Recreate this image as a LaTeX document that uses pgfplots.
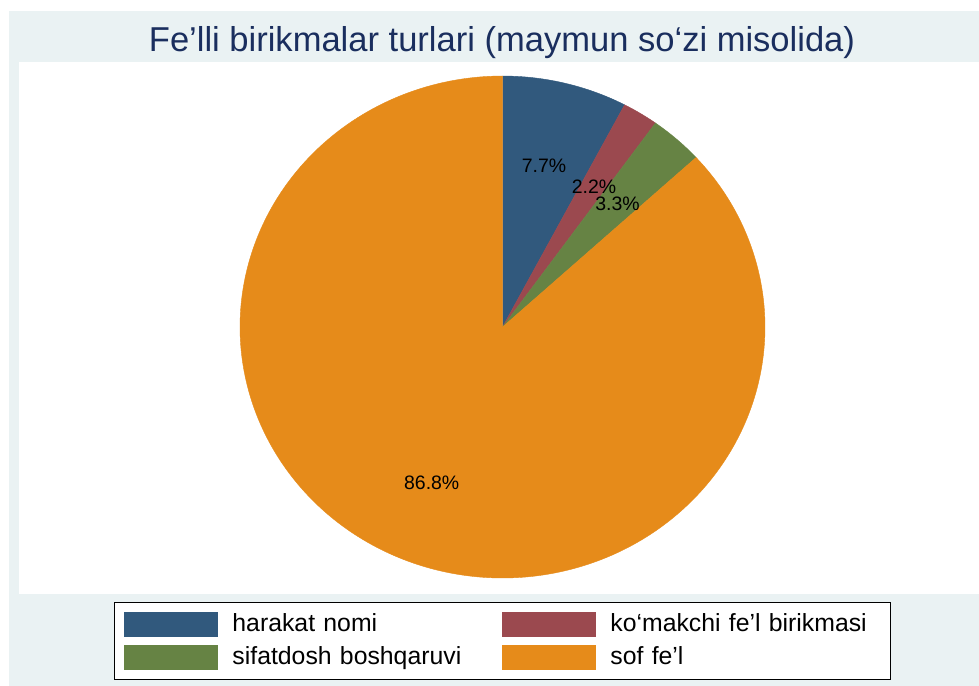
\documentclass[border=0pt]{standalone}
\usepackage{pgfplots}
\pgfplotsset{compat=1.18}
\usepackage{pgfplotstable}
\usepackage{fontspec}
\setmainfont{Liberation Sans}
\definecolor{cnavy}{RGB}{49,89,125}
\definecolor{cmaroon}{RGB}{155,73,79}
\definecolor{cgreen}{RGB}{102,131,68}
\definecolor{corange}{RGB}{230,139,26}
\definecolor{bgcol}{RGB}{234,242,243}
\definecolor{titlecol}{RGB}{26,46,94}

\pgfplotstableread{
share
7.7
2.2
3.3
86.8
}\piedata
\pgfplotstablegetelem{0}{share}\of\piedata \let\sA\pgfplotsretval
\pgfplotstablegetelem{1}{share}\of\piedata \let\sB\pgfplotsretval
\pgfplotstablegetelem{2}{share}\of\piedata \let\sC\pgfplotsretval
\pgfplotstablegetelem{3}{share}\of\piedata \let\sD\pgfplotsretval
\pgfmathsetmacro{\aA}{90}
\pgfmathsetmacro{\aB}{\aA-3.6*\sA}
\pgfmathsetmacro{\aC}{\aB-3.6*\sB}
\pgfmathsetmacro{\aD}{\aC-3.6*\sC}
\pgfmathsetmacro{\aE}{\aD-3.6*\sD}

\begin{document}
\begin{tikzpicture}
% canvas: 1px = 0.75pt, 979x686 px
\fill[white] (0,0) rectangle (734.25pt,514.5pt);
\fill[bgcol] (6.75pt,0) rectangle (734.25pt,506.25pt);
\fill[white] (14.25pt,69pt) rectangle (734.25pt,468pt);
\node[anchor=base, font=\fontsize{25.9pt}{30pt}\selectfont, text=titlecol, inner sep=0pt]
  at (376.5pt,475.5pt) {Fe’lli birikmalar turlari (maymun so‘zi misolida)};
\begin{axis}[
  at={(14.25pt,69pt)}, anchor=south west,
  scale only axis, width=720pt, height=399pt,
  xmin=-1.8419, xmax=1.8152, ymin=-1.0637, ymax=1.0558,
  hide axis, clip=false,
  legend columns=2,
  legend cell align=left,
  legend image code/.code={\fill[#1,draw=none] (0pt,-9.375pt) rectangle (70.5pt,9.375pt);},
  legend style={
    at={(0.5036,-0.01504)}, anchor=north,
    draw=black, line width=1pt, fill=white,
    inner xsep=7.5pt, inner ysep=7pt,
    row sep=6pt,
    font=\fontsize{18.6pt}{22pt}\selectfont,
    nodes={inner sep=0pt, text height=10.8pt, text depth=0pt, text width=202.5pt, align=left},
    /tikz/every odd column/.append style={column sep=10.5pt},
  },
]
\addplot[fill=cnavy, draw=cnavy, line width=0.3pt, domain=\aB:\aA, samples=60]
  ({cos(x)},{sin(x)}) -- (axis cs:0,0) -- cycle;
\addlegendentry{harakat nomi}
\addplot[fill=cmaroon, draw=cmaroon, line width=0.3pt, domain=\aC:\aB, samples=30]
  ({cos(x)},{sin(x)}) -- (axis cs:0,0) -- cycle;
\addlegendentry{ko‘makchi fe’l birikmasi}
\addplot[fill=cgreen, draw=cgreen, line width=0.3pt, domain=\aD:\aC, samples=30]
  ({cos(x)},{sin(x)}) -- (axis cs:0,0) -- cycle;
\addlegendentry{sifatdosh boshqaruvi}
\addplot[fill=corange, draw=corange, line width=0.3pt, domain=\aE:\aD, samples=300]
  ({cos(x)},{sin(x)}) -- (axis cs:0,0) -- cycle;
\addlegendentry{sof fe’l}
\node[font=\fontsize{14.6pt}{17pt}\selectfont, inner sep=0pt] at (axis cs:0.158,0.6414) {7.7\%};
\node[font=\fontsize{14.6pt}{17pt}\selectfont, inner sep=0pt] at (axis cs:0.3486,0.5578) {2.2\%};
\node[font=\fontsize{14.6pt}{17pt}\selectfont, inner sep=0pt] at (axis cs:0.438,0.492) {3.3\%};
\node[font=\fontsize{14.6pt}{17pt}\selectfont, inner sep=0pt] at (axis cs:-0.2697,-0.6215) {86.8\%};
\end{axis}
\end{tikzpicture}
\end{document}
